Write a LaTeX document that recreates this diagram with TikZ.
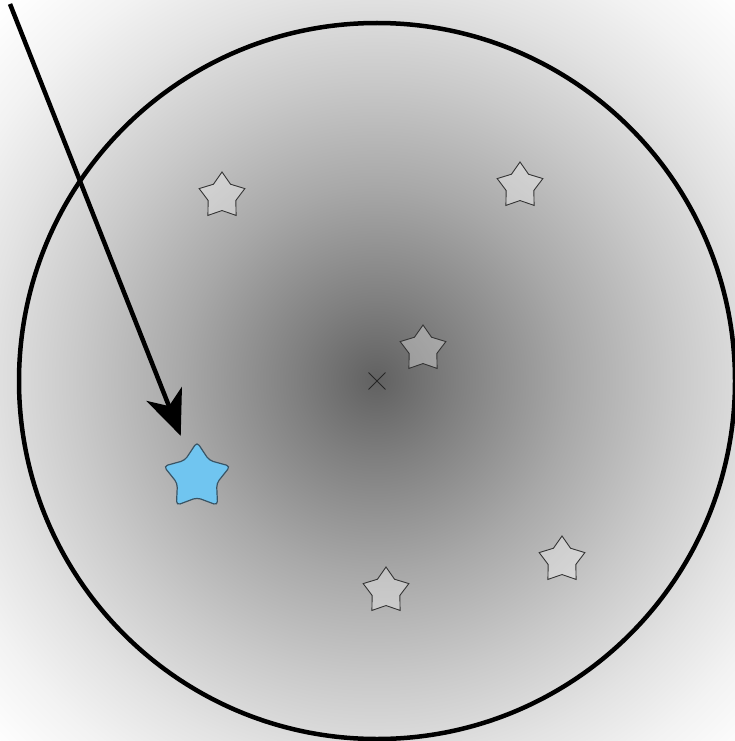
\documentclass[tikz,border=0pt]{standalone}
\usetikzlibrary{shapes.geometric,shapes.misc,arrows.meta}
\definecolor{starblue}{RGB}{112,197,240}
\definecolor{starrim}{RGB}{58,84,100}
\pgfdeclareradialshading{haze}{\pgfpoint{0bp}{0bp}}{%
  color(0bp)=(black!62); color(3.7bp)=(black!50); color(9bp)=(black!34);
  color(13.9bp)=(black!21); color(18bp)=(black!11); color(21bp)=(black!5);
  color(24.5bp)=(white); color(50bp)=(white)}

\begin{document}
\begin{tikzpicture}[
    x=1pt, y=-1pt,
    graystar/.style={star, star points=5, star point ratio=1.65, draw=black!80, line width=0.9pt, fill=white, fill opacity=0.32, draw opacity=1, minimum size=48pt, inner sep=0pt},
    bluestar/.style={star, star points=5, star point ratio=1.7, draw=starrim, line width=1.2pt, fill=starblue, rounded corners=4pt, minimum size=70pt, inner sep=0pt},
    rim/.style={draw=black, line width=4.5pt},
    pointer/.style={-{Stealth[length=45pt,width=38pt,inset=13pt]}, line width=4.5pt, shorten >=20pt}
]
\useasboundingbox (0,0) rectangle (735,741);

% Background haze
\begin{scope}
\clip (0,0) rectangle (735,741);
\shade[shading=haze] (376,380) circle[radius=540pt];
\end{scope}

% Centre mark and rim
\node[cross out, draw=black!85, line width=0.9pt, minimum size=16pt, inner sep=0pt] (centre) at (377,381) {};
\draw[rim] (centre.center) circle[radius=358pt];

% Stars
\node[graystar] (s1) at (222,196) {};
\node[graystar] (s2) at (520,186) {};
\node[graystar] (s3) at (423,349) {};
\node[graystar] (s4) at (562,560) {};
\node[graystar] (s5) at (386,591) {};
\node[bluestar] (blue) at (197,477) {};

% Arrow
\coordinate (tail) at (10,4);
\draw[pointer] (tail) -- (blue);
\end{tikzpicture}
\end{document}
